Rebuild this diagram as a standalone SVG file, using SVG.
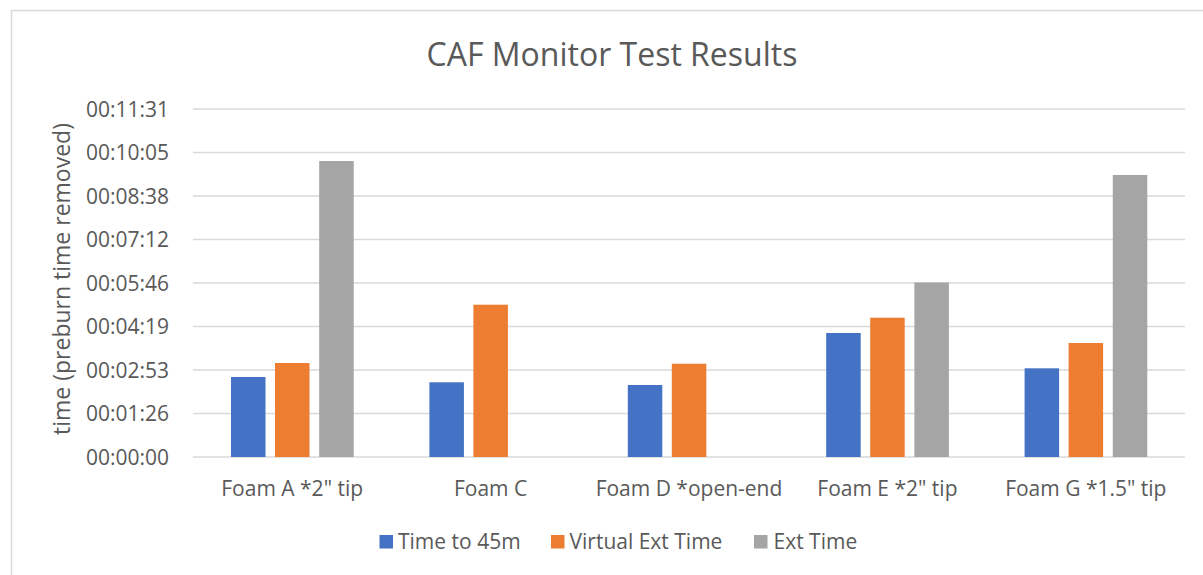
<svg xmlns="http://www.w3.org/2000/svg" width="1203" height="575" viewBox="0 0 1203 575">
<style>
text{font-family:"Open Sans","Noto Sans","Liberation Sans",sans-serif;fill:#595959}
.tick{font-size:21px;text-anchor:end}
.cat{font-size:21px;text-anchor:middle}
.leg{font-size:21px}
.grid{stroke:#D9D9D9;stroke-width:1.5;fill:none}
.s1{fill:#4472C4}
.s2{fill:#ED7D31}
.s3{fill:#A5A5A5}
</style>
<rect x="0" y="0" width="1203" height="575" fill="#FFFFFF"/>
<rect x="11.5" y="10.5" width="1250" height="650" fill="#FFFFFF" stroke="#D9D9D9" stroke-width="1.5"/>
<g id="title"><text x="612" y="66" font-size="32" text-anchor="middle">CAF Monitor Test Results</text></g>
<g id="gridlines">
<line class="grid" x1="193" y1="109" x2="1185" y2="109"/>
<line class="grid" x1="193" y1="152.5" x2="1185" y2="152.5"/>
<line class="grid" x1="193" y1="196" x2="1185" y2="196"/>
<line class="grid" x1="193" y1="239.5" x2="1185" y2="239.5"/>
<line class="grid" x1="193" y1="283" x2="1185" y2="283"/>
<line class="grid" x1="193" y1="326.5" x2="1185" y2="326.5"/>
<line class="grid" x1="193" y1="370" x2="1185" y2="370"/>
<line class="grid" x1="193" y1="413.5" x2="1185" y2="413.5"/>
<line class="grid" x1="193" y1="457" x2="1185" y2="457"/>
</g>
<g id="y-axis">
<text class="tick" x="169" y="116.5">00:11:31</text>
<text class="tick" x="169" y="160">00:10:05</text>
<text class="tick" x="169" y="203.5">00:08:38</text>
<text class="tick" x="169" y="247">00:07:12</text>
<text class="tick" x="169" y="290.5">00:05:46</text>
<text class="tick" x="169" y="334">00:04:19</text>
<text class="tick" x="169" y="377.5">00:02:53</text>
<text class="tick" x="169" y="421">00:01:26</text>
<text class="tick" x="169" y="464.5">00:00:00</text>
<text x="0" y="0" font-size="23" text-anchor="middle" transform="translate(70 279) rotate(-90)">time (preburn time removed)</text>
</g>
<g id="bars">
<g id="foam-a">
<rect class="s1" x="231" y="377" width="34.5" height="80"/>
<rect class="s2" x="275" y="363" width="34.5" height="94"/>
<rect class="s3" x="319.2" y="161" width="34.5" height="296"/>
</g>
<g id="foam-c">
<rect class="s1" x="429.4" y="382.3" width="34.5" height="74.7"/>
<rect class="s2" x="473.4" y="304.7" width="34.5" height="152.3"/>
</g>
<g id="foam-d">
<rect class="s1" x="627.8" y="385" width="34.5" height="72"/>
<rect class="s2" x="671.8" y="363.7" width="34.5" height="93.3"/>
</g>
<g id="foam-e">
<rect class="s1" x="826.2" y="333" width="34.5" height="124"/>
<rect class="s2" x="870.2" y="317.7" width="34.5" height="139.3"/>
<rect class="s3" x="914.4" y="282.5" width="34.5" height="174.5"/>
</g>
<g id="foam-g">
<rect class="s1" x="1024.6" y="368.3" width="34.5" height="88.7"/>
<rect class="s2" x="1068.6" y="343" width="34.5" height="114"/>
<rect class="s3" x="1112.8" y="175" width="34.5" height="282"/>
</g>
</g>
<g id="x-axis">
<text class="cat" x="292.2" y="496">Foam A *2" tip</text>
<text class="cat" x="490.6" y="496">Foam C</text>
<text class="cat" x="689" y="496">Foam D *open-end</text>
<text class="cat" x="887.4" y="496">Foam E *2" tip</text>
<text class="cat" x="1085.8" y="496">Foam G *1.5" tip</text>
</g>
<g id="legend">
<rect class="s1" x="379.5" y="535" width="13.5" height="13.5"/>
<text class="leg" x="398" y="548.5">Time to 45m</text>
<rect class="s2" x="551" y="535" width="13.5" height="13.5"/>
<text class="leg" x="569.5" y="548.5">Virtual Ext Time</text>
<rect class="s3" x="754" y="535" width="13.5" height="13.5"/>
<text class="leg" x="773.5" y="548.5">Ext Time</text>
</g>
</svg>
